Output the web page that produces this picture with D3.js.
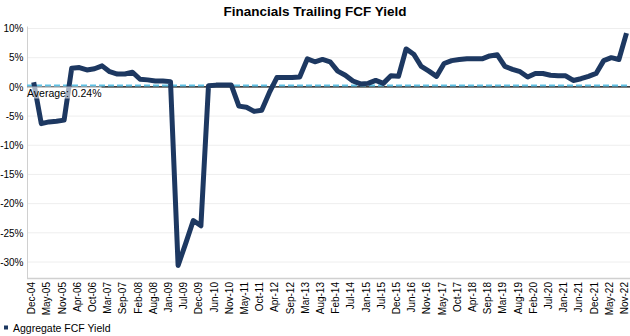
<!DOCTYPE html>
<html><head><meta charset="utf-8">
<script src="https://cdn.jsdelivr.net/npm/d3@7"></script>
<style>
html,body{margin:0;padding:0;background:#fff;}
svg{display:block;font-family:"Liberation Sans",Arial,sans-serif;}
</style></head>
<body><svg id="c" width="630" height="336"></svg>
<script>
const categories = ["Dec-04","Mar-05","May-05","Aug-05","Nov-05","Jan-06","Apr-06","Jul-06","Oct-06","Dec-06",
"Mar-07","Jun-07","Sep-07","Nov-07","Feb-08","May-08","Aug-08","Oct-08","Jan-09","Apr-09",
"Jul-09","Sep-09","Dec-09","Mar-10","Jun-10","Aug-10","Nov-10","Feb-11","May-11","Jul-11",
"Oct-11","Jan-12","Apr-12","Jun-12","Sep-12","Dec-12","Mar-13","May-13","Aug-13","Nov-13",
"Feb-14","Apr-14","Jul-14","Oct-14","Jan-15","Apr-15","Jul-15","Sep-15","Dec-15","Mar-16",
"Jun-16","Aug-16","Nov-16","Feb-17","May-17","Jul-17","Oct-17","Jan-18","Apr-18","Jun-18",
"Sep-18","Dec-18","Mar-19","May-19","Aug-19","Nov-19","Feb-20","Apr-20","Jul-20","Oct-20",
"Jan-21","Mar-21","Jun-21","Sep-21","Dec-21","Feb-22","May-22","Aug-22","Nov-22"];
const fcfYield = [0.8,-6.3,-6.0,-5.9,-5.7,3.2,3.3,2.9,3.1,3.6,
2.6,2.2,2.2,2.5,1.3,1.2,1.0,1.0,0.9,-30.6,
-26.8,-22.9,-23.8,0.2,0.3,0.3,0.3,-3.3,-3.5,-4.2,
-4.0,-1.0,1.6,1.6,1.6,1.7,4.8,4.3,4.7,4.3,
2.7,2.0,1.0,0.5,0.6,1.1,0.6,1.9,1.8,6.5,
5.6,3.5,2.7,1.8,4.0,4.5,4.7,4.8,4.8,4.8,
5.3,5.5,3.5,3.0,2.6,1.7,2.3,2.3,2.0,1.9,
1.9,1.1,1.4,1.8,2.3,4.5,5.0,4.7,9.2];
const average = 0.24;
const yTicks = [10,5,0,-5,-10,-15,-20,-25,-30];
const seriesName = "Aggregate FCF Yield";
const chartTitle = "Financials Trailing FCF Yield";

const svg = d3.select("#c");
const pL = 27, pR = 630, pT = 28.5, pB = 278;
const navy = "#1d3861";

const x = d3.scalePoint().domain(categories).range([33.7, 626.5]);
const y = d3.scaleLinear().domain([-30, 10]).range([262, 28.5]);

// title
svg.append("text").attr("x", 315).attr("y", 15.5).attr("text-anchor","middle")
  .attr("font-size", 13.5).attr("font-weight","bold").attr("fill","#000").text(chartTitle);

// gridlines
svg.append("g").selectAll("line").data(yTicks).join("line")
  .attr("x1", pL).attr("x2", pR).attr("y1", d=>y(d)).attr("y2", d=>y(d))
  .attr("stroke", "#eeeeee").attr("stroke-width", 1);

// y axis
const ya = svg.append("g").attr("transform", `translate(${pL},0)`)
  .call(d3.axisLeft(y).tickValues(yTicks).tickSize(0).tickPadding(3.5).tickFormat(d=>d+"%"));
ya.select(".domain").remove();
ya.selectAll("text").attr("font-size", 10).attr("fill","#000").attr("font-family",'"Liberation Sans",Arial,sans-serif');
svg.append("line").attr("x1", pL+0.5).attr("x2", pL+0.5).attr("y1", pT-2).attr("y2", pB)
  .attr("stroke", "#d0d0d0").attr("stroke-width", 1);
svg.append("line").attr("x1", pL).attr("x2", pR).attr("y1", pB+0.5).attr("y2", pB+0.5)
  .attr("stroke", "#d0d0d0").attr("stroke-width", 1.5);

// x axis labels
const tickCats = categories.filter((d,i)=>i%2===0);
const xa = svg.append("g").attr("transform", `translate(0,${pB})`)
  .call(d3.axisBottom(x).tickValues(tickCats).tickSize(0).tickPadding(0));
xa.select(".domain").remove();
xa.selectAll("text")
  .attr("font-size", 10).attr("fill","#000").attr("font-family",'"Liberation Sans",Arial,sans-serif')
  .attr("text-anchor","end").attr("dy", null).attr("y", 0).attr("x", 0)
  .attr("transform", "translate(-2.5,4) rotate(-90)").attr("dominant-baseline","central");

// zero line
svg.append("line").attr("x1", pL).attr("x2", pR).attr("y1", y(0)).attr("y2", y(0))
  .attr("stroke", "#000").attr("stroke-width", 1.2);

// average line
svg.append("line").attr("x1", pL).attr("x2", pR).attr("y1", y(average)).attr("y2", y(average))
  .attr("stroke", "#5fc2e6").attr("stroke-width", 2).attr("stroke-dasharray","6,3");

// series line
const line = d3.line().x((d,i)=>x(categories[i])).y(d=>y(d)).curve(d3.curveLinear);
svg.append("path").datum(fcfYield).attr("d", line).attr("fill","none")
  .attr("stroke", navy).attr("stroke-width", 5).attr("stroke-linejoin","round");

// average label
const lbl = svg.append("g");
const bg = lbl.append("rect");
const t = lbl.append("text").attr("x", 27).attr("y", 96.5).attr("font-size", 10.5).attr("fill","#000")
  .text("Average: " + average.toFixed(2) + "%");
const bb = t.node().getBBox();
bg.attr("x", bb.x).attr("y", bb.y).attr("width", bb.width).attr("height", bb.height)
  .attr("fill","#fff").attr("fill-opacity", 0.6);

// legend
svg.append("rect").attr("x", 4).attr("y", 325.5).attr("width", 4).attr("height", 4).attr("fill", navy);
svg.append("text").attr("x", 13).attr("y", 331.5).attr("font-size", 10.5).attr("fill","#000").text(seriesName);
</script></body></html>
